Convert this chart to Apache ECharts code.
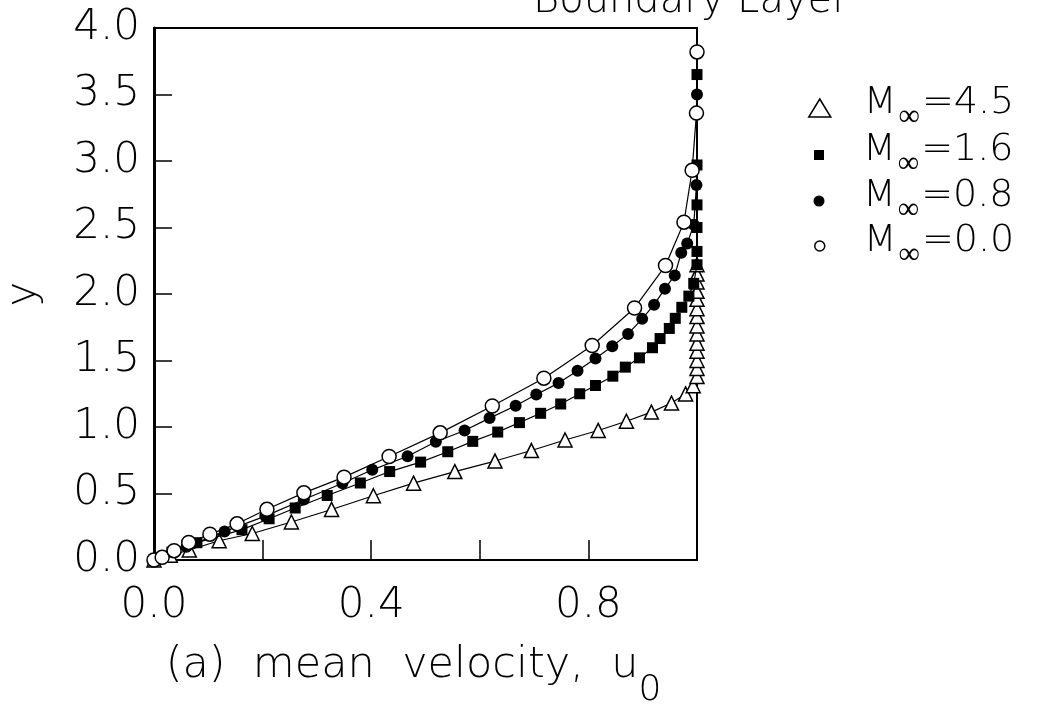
<!DOCTYPE html>
<html><head><meta charset="utf-8">
<script src="https://cdn.jsdelivr.net/npm/echarts@6/dist/echarts.min.js"></script>
<style>html,body{margin:0;padding:0;background:#fff}#c{width:1051px;height:709px}</style>
</head><body><div id="c"></div>
<script>
// tick labels
const xTickLabels = ['0.0', '0.4', '0.8'];
const yTickLabels = ['0.0', '0.5', '1.0', '1.5', '2.0', '2.5', '3.0', '3.5', '4.0'];
const seriesNames = ['M∞=4.5', 'M∞=1.6', 'M∞=0.8', 'M∞=0.0'];
// [u0, y] points
const m45 = [[0,0],[0.03,0.035],[0.065,0.075],[0.12,0.145],[0.181,0.199],[0.253,0.286],[0.327,0.38],[0.404,0.483],[0.478,0.578],[0.554,0.665],[0.628,0.744],[0.695,0.823],[0.757,0.902],[0.818,0.974],[0.87,1.043],[0.916,1.112],[0.953,1.18],[0.979,1.249],[0.993,1.31],[1.0,1.38],[1.0,1.44],[1.0,1.5],[1.0,1.57],[1.0,1.63],[1.0,1.7],[1.0,1.76],[1.0,1.83],[1.0,1.89],[1.0,1.96],[1.0,2.02],[1.0,2.09],[1.0,2.15],[1.0,2.22]];
const m16 = [[0,0],[0.033,0.06],[0.079,0.13],[0.162,0.228],[0.212,0.31],[0.26,0.391],[0.319,0.485],[0.38,0.579],[0.434,0.665],[0.491,0.736],[0.541,0.814],[0.587,0.892],[0.633,0.962],[0.673,1.033],[0.712,1.103],[0.749,1.173],[0.784,1.25],[0.813,1.312],[0.845,1.382],[0.868,1.45],[0.894,1.52],[0.918,1.596],[0.932,1.665],[0.949,1.741],[0.96,1.817],[0.972,1.9],[0.985,1.984],[0.994,2.08],[1.0,2.22],[1.0,2.32],[1.0,2.5],[1.0,2.67],[1.0,2.97],[1.0,3.65]];
const m08 = [[0,0],[0.015,0.03],[0.06,0.1],[0.13,0.215],[0.205,0.33],[0.276,0.455],[0.347,0.577],[0.402,0.678],[0.467,0.78],[0.519,0.889],[0.572,0.974],[0.618,1.067],[0.666,1.16],[0.704,1.245],[0.745,1.33],[0.78,1.423],[0.813,1.515],[0.844,1.607],[0.873,1.7],[0.899,1.813],[0.921,1.92],[0.941,2.04],[0.959,2.14],[0.971,2.31],[0.982,2.38],[0.994,2.52],[0.999,2.82],[1.0,3.5]];
const m00 = [[0,0],[0.015,0.02],[0.037,0.07],[0.064,0.132],[0.103,0.194],[0.153,0.272],[0.208,0.381],[0.276,0.505],[0.35,0.623],[0.433,0.778],[0.527,0.956],[0.623,1.158],[0.718,1.367],[0.807,1.613],[0.885,1.895],[0.942,2.214],[0.976,2.54],[0.991,2.93],[0.999,3.36],[1.0,3.82]];
const curveEnd = [1.0, 4.0];

const FONT = 'DejaVu Sans';
const FW = 200;
const chart = echarts.init(document.getElementById('c'));

function mk(name, data, symbol, size, fill, bw, z) {
  return {
    type: 'line', name: name, z: z,
    data: data.concat([{ value: curveEnd, symbol: 'none' }]),
    symbol: symbol, symbolSize: size, showAllSymbol: true,
    lineStyle: { color: '#000', width: 1.2 },
    itemStyle: { color: fill, borderColor: '#000', borderWidth: bw },
    emphasis: { disabled: true }
  };
}

const icons = [
  { icon: 'triangle', w: 22, h: 18, fill: '#fff', bw: 1.5 },
  { icon: 'rect', w: 10, h: 10, fill: '#000', bw: 0 },
  { icon: 'circle', w: 11, h: 11, fill: '#000', bw: 0 },
  { icon: 'circle', w: 10, h: 10, fill: '#fff', bw: 1.5 }
];
const rowY = [110, 157, 203, 248];
const legends = seriesNames.map(function (n, i) {
  const ic = icons[i];
  return {
    data: [{ name: n, icon: ic.icon, itemStyle: { color: ic.fill, borderColor: '#000', borderWidth: ic.bw } }],
    left: 819 - ic.w / 2, top: rowY[i] - 26, padding: 0,
    itemWidth: ic.w, itemHeight: ic.h, selectedMode: false,
    formatter: function (name) { return '{a|M}{s|∞}{m|=' + name.split('=')[1] + '}'; },
    textStyle: {
      color: '#000', fontFamily: FONT, fontWeight: FW, fontSize: 38,
      rich: {
        a: { fontFamily: FONT, fontWeight: FW, fontSize: 38, color: '#000', padding: [0, 0, 10, 867 - (819 + ic.w / 2 + 5) - 4], verticalAlign: 'bottom' },
        s: { fontFamily: FONT, fontWeight: FW, fontSize: 30, color: '#000', padding: [0, 2, 0, 2], verticalAlign: 'bottom' },
        m: { fontFamily: FONT, fontWeight: FW, fontSize: 38, color: '#000', padding: [0, 0, 10, 0], verticalAlign: 'bottom' }
      }
    }
  };
});

chart.setOption({
  animation: false,
  backgroundColor: '#fff',
  graphic: [{
    type: 'text', left: 533, top: -18,
    style: { text: 'Boundary Layer', font: '200 40px "DejaVu Sans"', fill: '#000' }
  }],
  grid: { left: 154, right: 354, top: 28, bottom: 149, show: true, borderColor: '#000', borderWidth: 2, containLabel: false, outerBoundsMode: 'none' },
  legend: legends,
  xAxis: {
    type: 'value', min: 0, max: 1, interval: 0.2,
    name: '{m|(a)  mean  velocity,  u}{z|0}', nameLocation: 'middle', nameGap: 84,
    nameTextStyle: {
      rich: {
        m: { fontFamily: FONT, fontWeight: FW, fontSize: 43, color: '#000', padding: [0, 0, 22, 0], verticalAlign: 'bottom' },
        z: { fontFamily: FONT, fontWeight: FW, fontSize: 36, color: '#000', padding: [0, 24, 0, 0], verticalAlign: 'bottom' }
      }
    },
    axisLine: { lineStyle: { color: '#000', width: 2 } },
    axisTick: { inside: true, length: 20, lineStyle: { color: '#000', width: 1.5 } },
    splitLine: { show: false },
    axisLabel: {
      color: '#000', fontFamily: FONT, fontWeight: FW, fontSize: 42, margin: 25,
      formatter: function (v) { const s = v.toFixed(1); return xTickLabels.indexOf(s) >= 0 ? s : ''; }
    }
  },
  yAxis: {
    type: 'value', min: 0, max: 4, interval: 0.5,
    name: 'y', nameLocation: 'middle', nameGap: 109, nameRotate: 90,
    nameTextStyle: { fontFamily: FONT, fontWeight: FW, fontSize: 42, color: '#000' },
    axisLine: { lineStyle: { color: '#000', width: 3 } },
    axisTick: { inside: true, length: 18, lineStyle: { color: '#000', width: 1.5 } },
    splitLine: { show: false },
    axisLabel: {
      color: '#000', fontFamily: FONT, fontWeight: FW, fontSize: 42, margin: 14,
      formatter: function (v) { return yTickLabels[Math.round(v / 0.5)]; }
    }
  },
  series: [
    mk(seriesNames[0], m45, 'triangle', 14, '#fff', 1.5, 2),
    mk(seriesNames[1], m16, 'rect', 11, '#000', 0, 3),
    mk(seriesNames[2], m08, 'circle', 12, '#000', 0, 4),
    mk(seriesNames[3], m00, 'circle', 14, '#fff', 1.5, 5)
  ]
});
</script></body></html>
